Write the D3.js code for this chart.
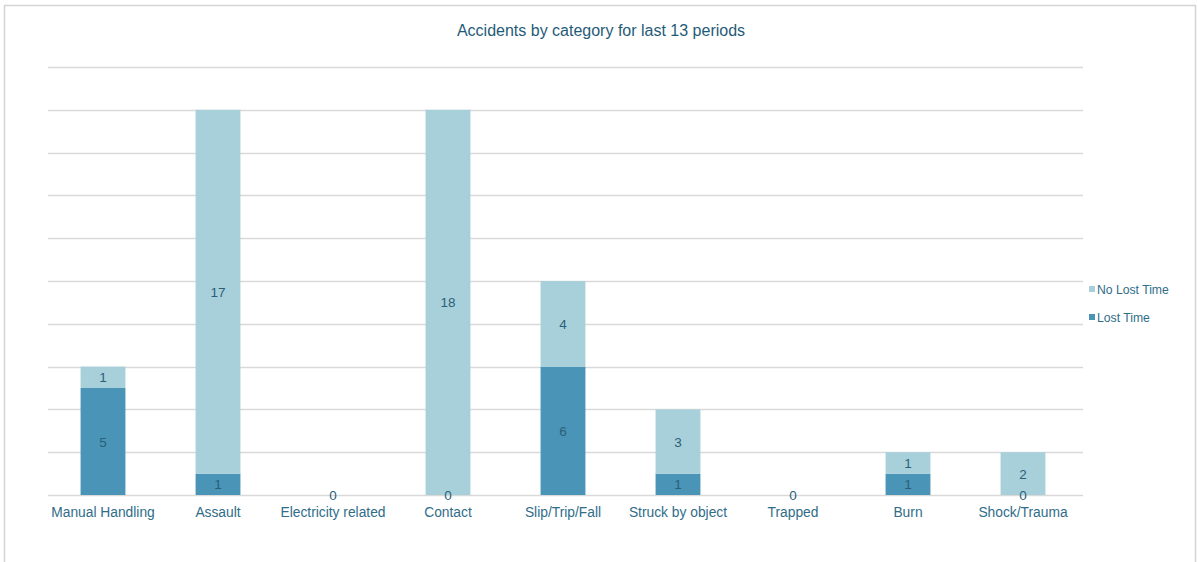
<!DOCTYPE html>
<html>
<head>
<meta charset="utf-8">
<script src="https://cdn.jsdelivr.net/npm/d3@7"></script>
<style>
  body { margin: 0; background: #fff; font-family: "Liberation Sans", Arial, sans-serif; }
</style>
</head>
<body>
<svg id="chart" width="1198" height="562"></svg>
<script>
// data
const categories = ["Manual Handling", "Assault", "Electricity related", "Contact", "Slip/Trip/Fall",
  "Struck by object", "Trapped", "Burn", "Shock/Trauma"];
const lostTime = [5, 1, 0, 0, 6, 1, 0, 1, 0];
const noLostTime = [1, 17, null, 18, 4, 3, null, 1, 2];
const seriesNames = ["Lost Time", "No Lost Time"];
const yMax = 20, yStep = 2;

const lightColor = "#a8d0db";
const darkColor = "#4a94b7";
const textColor = "#2f6d88";
const labelColor = "#2b5f77";

const svg = d3.select("#chart");
const W = 1198, H = 562;
const margin = { left: 48, right: 115, top: 67, bottom: 67 };

// frame
svg.append("rect")
    .attr("x", 4.5).attr("y", 5.5)
    .attr("width", 1191).attr("height", 570)
    .attr("fill", "none").attr("stroke", "#d4d4d4").attr("stroke-width", 1.5);

svg.append("text")
    .attr("x", 601).attr("y", 36)
    .attr("text-anchor", "middle")
    .attr("font-size", 16)
    .attr("fill", "#1f5b78")
    .text("Accidents by category for last 13 periods");

const x = d3.scaleBand().domain(categories)
    .range([margin.left - 2.5, W - margin.right - 2.5])
    .paddingInner(0.61).paddingOuter(0.305);
const y = d3.scaleLinear().domain([0, yMax]).range([H - margin.bottom, margin.top]);

// gridlines
svg.append("g").selectAll("line")
    .data(d3.range(0, yMax + 1, yStep))
    .join("line")
    .attr("x1", margin.left).attr("x2", W - margin.right)
    .attr("y1", d => Math.round(y(d)) + 0.5).attr("y2", d => Math.round(y(d)) + 0.5)
    .attr("stroke", "#d9d9d9").attr("stroke-width", 1.5);

const rows = categories.map((c, i) => ({ cat: c, lost: lostTime[i], noLost: noLostTime[i] }));
const stack = d3.stack().keys(["lost", "noLost"]).value((d, k) => d[k] || 0)(rows);

const bars = svg.append("g");
stack.forEach((layer, li) => {
    bars.selectAll(".bar" + li).data(layer)
        .join("rect").attr("class", "bar" + li)
        .attr("x", d => x(d.data.cat))
        .attr("width", x.bandwidth())
        .attr("y", d => y(d[1]))
        .attr("height", d => y(d[0]) - y(d[1]))
        .attr("fill", li === 0 ? darkColor : lightColor);
});

// value labels
stack.forEach((layer, li) => {
    const key = li === 0 ? "lost" : "noLost";
    bars.selectAll(".lbl" + li).data(layer.filter(d => d.data[key] !== null))
        .join("text").attr("class", "lbl" + li)
        .attr("x", d => x(d.data.cat) + x.bandwidth() / 2)
        .attr("y", d => (y(d[0]) + y(d[1])) / 2 + 5)
        .attr("text-anchor", "middle")
        .attr("font-size", 13.5)
        .attr("fill", labelColor)
        .text(d => d.data[key]);
});

// x axis labels
svg.append("g").selectAll("text").data(categories)
    .join("text")
    .attr("x", d => x(d) + x.bandwidth() / 2)
    .attr("y", H - margin.bottom + 22)
    .attr("text-anchor", "middle")
    .attr("font-size", 13.8)
    .attr("fill", textColor)
    .text(d => d);

// legend
const legend = svg.append("g").attr("transform", "translate(1089,0)");
const legendItems = [
    { name: seriesNames[1], color: lightColor, y: 289 },
    { name: seriesNames[0], color: darkColor, y: 317 }
];
legend.selectAll("rect").data(legendItems).join("rect")
    .attr("x", 0).attr("y", d => d.y - 3)
    .attr("width", 6).attr("height", 6)
    .attr("fill", d => d.color);
legend.selectAll("text").data(legendItems).join("text")
    .attr("x", 8).attr("y", d => d.y + 4.5)
    .attr("font-size", 12.2)
    .attr("fill", textColor)
    .text(d => d.name);
</script>
</body>
</html>
